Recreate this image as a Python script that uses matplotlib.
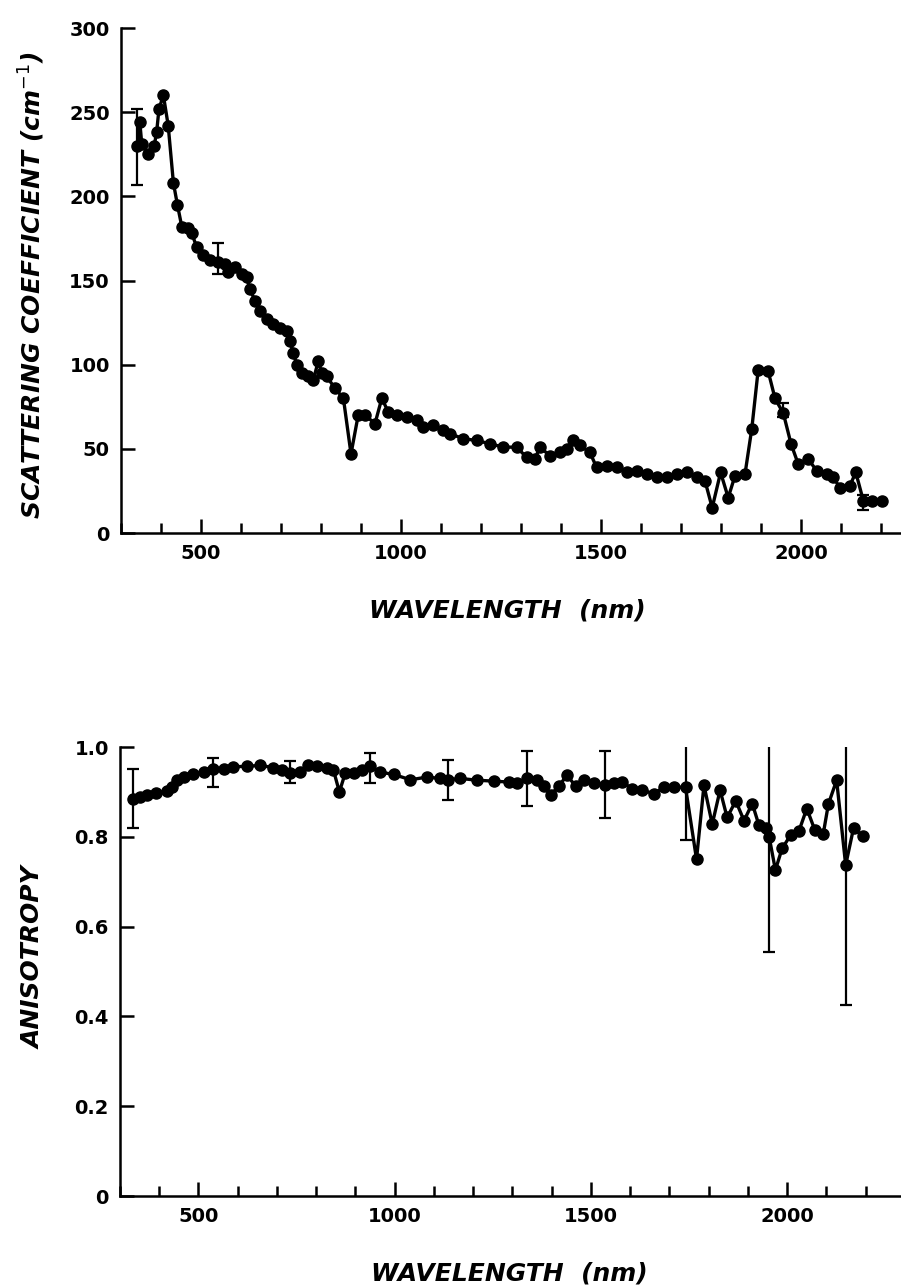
import matplotlib
matplotlib.use("Agg")
import matplotlib.pyplot as plt
from matplotlib.ticker import MultipleLocator, FixedLocator

# scattering coefficient (cm^-1) vs wavelength (nm)
wl_scat = [341, 347, 352, 368, 383, 389, 395, 406, 418, 431,
           441, 452, 468, 477, 489, 506, 522, 543, 560, 568,
           585, 602, 614, 622, 635, 647, 664, 681, 697, 714,
           722, 731, 739, 752, 768, 781, 793, 802, 814, 835,
           856, 875, 893, 910, 935, 952, 968, 989, 1014, 1039,
           1056, 1081, 1106, 1122, 1156, 1189, 1222, 1256, 1289, 1314,
           1335, 1347, 1372, 1397, 1414, 1431, 1447, 1472, 1489, 1514,
           1539, 1564, 1589, 1614, 1639, 1664, 1689, 1714, 1739, 1760,
           1778, 1799, 1818, 1835, 1860, 1877, 1893, 1918, 1935, 1956,
           1975, 1993, 2018, 2039, 2064, 2081, 2097, 2122, 2137, 2156,
           2177, 2202]
mu_s = [230, 244, 231, 225, 230, 238, 252, 260, 242, 208,
        195, 182, 181, 178, 170, 165, 162, 161, 160, 155,
        158, 154, 152, 145, 138, 132, 127, 124, 122, 120,
        114, 107, 100, 95, 93, 91, 102, 95, 93, 86,
        80, 47, 70, 70, 65, 80, 72, 70, 69, 67,
        63, 64, 61, 59, 56, 55, 53, 51, 51, 45,
        44, 51, 46, 48, 50, 55, 52, 48, 39, 40,
        39, 36, 37, 35, 33, 33, 35, 36, 33, 31,
        15, 36, 21, 34, 35, 62, 97, 96, 80, 71,
        53, 41, 44, 37, 35, 33, 27, 28, 36, 19,
        19, 19]
err_wl_scat = [341, 543, 1956, 2156]
err_mid_scat = [229.5, 163, 73, 18]
err_half_scat = [22.5, 9, 4, 4.5]

# anisotropy g vs wavelength (nm)
wl_g = [334, 351, 368, 393, 419, 432, 444, 462, 487, 513,
        536, 564, 589, 623, 657, 691, 712, 732, 759, 780,
        802, 827, 844, 859, 874, 895, 916, 938, 963, 997,
        1040, 1082, 1116, 1137, 1167, 1210, 1252, 1290, 1312, 1337,
        1363, 1380, 1397, 1418, 1439, 1461, 1482, 1507, 1537, 1558,
        1580, 1605, 1631, 1660, 1686, 1711, 1741, 1769, 1788, 1809,
        1829, 1847, 1869, 1890, 1911, 1928, 1945, 1954, 1970, 1987,
        2009, 2030, 2050, 2070, 2092, 2105, 2126, 2149, 2169, 2192]
g = [0.885, 0.889, 0.893, 0.898, 0.901, 0.911, 0.926, 0.933, 0.939, 0.944,
     0.950, 0.952, 0.956, 0.957, 0.959, 0.954, 0.948, 0.942, 0.944, 0.961,
     0.957, 0.954, 0.948, 0.900, 0.942, 0.941, 0.948, 0.957, 0.944, 0.939,
     0.927, 0.933, 0.930, 0.927, 0.930, 0.926, 0.924, 0.922, 0.920, 0.930,
     0.926, 0.913, 0.893, 0.913, 0.937, 0.913, 0.926, 0.919, 0.915, 0.919,
     0.922, 0.907, 0.904, 0.896, 0.910, 0.911, 0.910, 0.750, 0.915, 0.828,
     0.904, 0.843, 0.880, 0.836, 0.874, 0.826, 0.819, 0.800, 0.726, 0.774,
     0.804, 0.813, 0.863, 0.816, 0.807, 0.873, 0.926, 0.737, 0.819, 0.801]
err_wl_g = [334, 536, 732, 938, 1137, 1337, 1537, 1741, 1954, 2149]
err_mid_g = [0.886, 0.9425, 0.944, 0.953, 0.9265, 0.929, 0.9165, 0.903, 0.8025, 0.7355]
err_half_g = [0.066, 0.032, 0.025, 0.034, 0.044, 0.061, 0.074, 0.11, 0.26, 0.31]

x_major = [500, 1000, 1500, 2000]
scat_ticks = [0, 50, 100, 150, 200, 250, 300]
g_ticks = [0, 0.2, 0.4, 0.6, 0.8, 1.0]
g_ticklabels = ["0", "0.2", "0.4", "0.6", "0.8", "1.0"]

W, H = 901, 1288
TICK_FONT = dict(family="DejaVu Sans", weight="bold", size=14)
LABEL_FONT = dict(family="DejaVu Sans", style="italic", weight="bold", size=18)


def style_axes(ax, xmax):
    for side in ("top", "right"):
        ax.spines[side].set_visible(False)
    for side in ("left", "bottom"):
        ax.spines[side].set_linewidth(1.8)
    ax.set_xlim(300, xmax)
    ax.xaxis.set_major_locator(FixedLocator(x_major))
    ax.xaxis.set_minor_locator(MultipleLocator(100))
    ax.tick_params(axis="both", which="major", direction="in", length=10, width=1.8)
    ax.tick_params(axis="x", which="minor", direction="in", length=7, width=1.8)
    ax.tick_params(axis="x", which="major", pad=8)
    ax.tick_params(axis="y", which="major", pad=8)
    for lab in ax.get_xticklabels() + ax.get_yticklabels():
        lab.set_fontfamily(TICK_FONT["family"])
        lab.set_fontweight(TICK_FONT["weight"])
        lab.set_fontsize(TICK_FONT["size"])


def main() -> None:
    fig = plt.figure(figsize=(W / 100, H / 100), dpi=100)
    fig.patch.set_facecolor("white")

    # top panel: scattering coefficient
    ax1 = fig.add_axes([121 / W, 1 - 533 / H, 780 / W, 505 / H])
    ax1.plot(wl_scat, mu_s, "-o", color="black", lw=2.4, ms=8, clip_on=False)
    ax1.errorbar(err_wl_scat, err_mid_scat, yerr=err_half_scat, fmt="none",
                 ecolor="black", elinewidth=1.6, capsize=4.5, capthick=1.6)
    ax1.set_ylim(0, 300)
    ax1.set_yticks(scat_ticks)
    style_axes(ax1, 2250)
    ax1.set_ylabel("SCATTERING COEFFICIENT (cm$^{-1}$)", **LABEL_FONT)
    ax1.yaxis.set_label_coords(-0.095, 0.49)
    ax1.set_xlabel("WAVELENGTH  (nm)", **LABEL_FONT)
    ax1.xaxis.set_label_coords(0.495, -0.13)

    # bottom panel: anisotropy
    ax2 = fig.add_axes([120 / W, 1 - 1196 / H, 781 / W, 449 / H])
    ax2.plot(wl_g, g, "-o", color="black", lw=2.4, ms=8, clip_on=False)
    ax2.errorbar(err_wl_g, err_mid_g, yerr=err_half_g, fmt="none",
                 ecolor="black", elinewidth=1.6, capsize=4.5, capthick=1.6)
    ax2.set_ylim(0, 1.0)
    ax2.set_yticks(g_ticks)
    ax2.set_yticklabels(g_ticklabels)
    style_axes(ax2, 2290)
    ax2.set_ylabel("ANISOTROPY", **LABEL_FONT)
    ax2.yaxis.set_label_coords(-0.095, 0.53)
    ax2.set_xlabel("WAVELENGTH  (nm)", **LABEL_FONT)
    ax2.xaxis.set_label_coords(0.498, -0.145)

    fig.savefig("out.png", dpi=100, facecolor="white")


if __name__ == "__main__":
    main()
